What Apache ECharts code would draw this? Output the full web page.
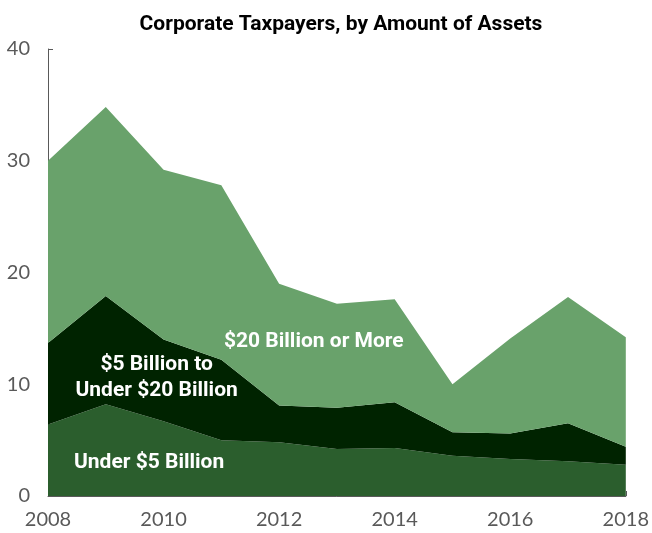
<!DOCTYPE html>
<html>
<head>
<meta charset="utf-8">
<script src="https://cdn.jsdelivr.net/npm/echarts@6/dist/echarts.min.js"></script>
<style>
  html, body { margin: 0; padding: 0; background: #ffffff; }
  #chart { width: 652px; height: 533px; }
</style>
</head>
<body>
<div id="chart"></div>
<script>
// Number of corporate taxpayers (by asset class), 2008–2018
const years = ['2008', '2009', '2010', '2011', '2012', '2013', '2014', '2015', '2016', '2017', '2018'];
const under5B = [6.4, 8.2, 6.7, 5.0, 4.8, 4.2, 4.3, 3.6, 3.3, 3.1, 2.8];
const from5To20B = [7.3, 9.7, 7.3, 7.2, 3.3, 3.7, 4.1, 2.1, 2.3, 3.4, 1.6];
const over20B = [16.3, 16.9, 15.2, 15.6, 10.9, 9.3, 9.2, 4.3, 8.5, 11.3, 9.8];
const yTicks = [0, 10, 20, 30, 40];

const seriesNames = ['Under $5 Billion', '$5 Billion to\nUnder $20 Billion', '$20 Billion or More'];
const colors = ['#2b5e2d', '#002300', '#69a26b'];

const chart = echarts.init(document.getElementById('chart'));

function areaSeries(name, data, color) {
  return {
    name: name,
    type: 'line',
    stack: 'total',
    data: data,
    symbol: 'none',
    lineStyle: { width: 0 },
    areaStyle: { color: color, opacity: 1 },
    itemStyle: { color: color },
    silent: true
  };
}

const axisGray = '#595959';

chart.setOption({
  animation: false,
  title: {
    text: 'Corporate Taxpayers, by Amount of Assets',
    left: 336,
    top: 9,
    textAlign: 'center',
    textStyle: { fontFamily: 'Roboto', fontWeight: 'bold', fontSize: 21, color: '#000000' }
  },
  grid: { left: 48, right: 24, top: 49, bottom: 37 },
  xAxis: {
    type: 'category',
    data: years,
    boundaryGap: false,
    axisLine: { lineStyle: { color: axisGray, width: 1 } },
    axisTick: { inside: true, length: 5, interval: 1, lineStyle: { color: axisGray } },
    axisLabel: { interval: 1, color: axisGray, fontFamily: 'Lato', fontSize: 20, margin: 14 },
    splitLine: { show: false }
  },
  yAxis: {
    type: 'value',
    min: yTicks[0],
    max: yTicks[yTicks.length - 1],
    interval: 10,
    axisLine: { show: true, lineStyle: { color: axisGray, width: 1 } },
    axisTick: { show: true, inside: true, length: 5, lineStyle: { color: axisGray } },
    axisLabel: { color: axisGray, fontFamily: 'Lato', fontSize: 20, margin: 18 },
    splitLine: { show: false }
  },
  series: [
    areaSeries(seriesNames[0], under5B, colors[0]),
    areaSeries(seriesNames[1], from5To20B, colors[1]),
    areaSeries(seriesNames[2], over20B, colors[2])
  ]
});

// In-chart labels for each band, anchored between two categories at a data value
function seriesLabel(text, xIndex, xOffset, yVal) {
  const x0 = chart.convertToPixel({ xAxisIndex: 0 }, years[xIndex]);
  const x1 = chart.convertToPixel({ xAxisIndex: 0 }, years[xIndex + 1]);
  const y = chart.convertToPixel({ yAxisIndex: 0 }, yVal);
  return {
    type: 'text',
    x: x0 + (x1 - x0) * xOffset,
    y: y,
    z: 100,
    silent: true,
    style: {
      text: text,
      fill: '#ffffff',
      fontFamily: 'Roboto',
      fontWeight: 'bold',
      fontSize: 21,
      align: 'center',
      verticalAlign: 'middle',
      lineHeight: 26
    }
  };
}

chart.setOption({
  graphic: [
    seriesLabel(seriesNames[2], 4, 0.6, 13.8),
    seriesLabel(seriesNames[1], 1, 0.88, 10.6),
    seriesLabel(seriesNames[0], 1, 0.75, 3.0)
  ]
});
</script>
</body>
</html>
